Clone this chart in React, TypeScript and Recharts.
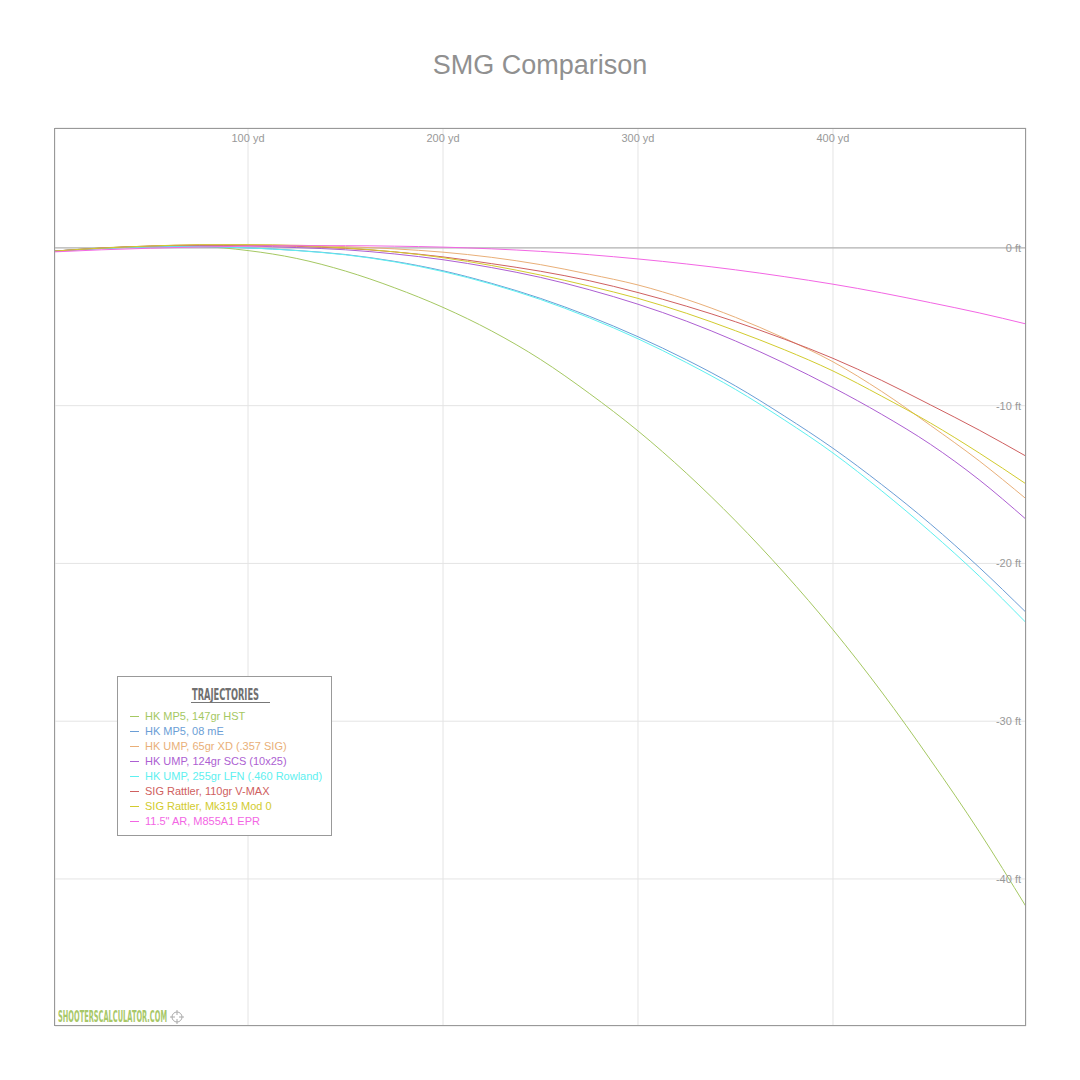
import { LineChart, Line, XAxis, YAxis, CartesianGrid } from 'recharts';

// range in yards
const YARDS = [1, 25, 50, 75, 100, 125, 150, 175, 200, 225, 250, 275, 300, 325, 350, 375, 400, 425, 450, 475, 499];

// drop in feet
const MP5_HST = [-0.2, 0.0, 0.1, 0.08, -0.17, -0.67, -1.47, -2.52, -3.77, -5.27, -7.07, -9.22, -11.6, -14.3, -17.3, -20.6, -24.2, -28.15, -32.45, -37.0, -41.75];
const MP5_MEE = [-0.2, -0.04, 0.07, 0.08, 0.0, -0.16, -0.42, -0.85, -1.45, -2.25, -3.2, -4.33, -5.63, -7.1, -8.75, -10.65, -12.7, -15.0, -17.5, -20.25, -23.1];
const UMP_XD = [-0.22, -0.03, 0.1, 0.18, 0.2, 0.17, 0.08, -0.06, -0.27, -0.6, -1.06, -1.67, -2.35, -3.27, -4.4, -5.72, -7.22, -9.1, -11.25, -13.5, -15.9];
const UMP_SCS = [-0.2, -0.02, 0.1, 0.15, 0.12, 0.02, -0.12, -0.38, -0.75, -1.25, -1.87, -2.65, -3.57, -4.65, -5.9, -7.3, -8.85, -10.55, -12.45, -14.7, -17.2];
const UMP_LFN = [-0.2, -0.04, 0.07, 0.08, 0.0, -0.17, -0.44, -0.88, -1.5, -2.3, -3.27, -4.43, -5.76, -7.28, -8.97, -10.9, -13.0, -15.4, -18.0, -20.8, -23.75];
const RATTLER_VMAX = [-0.2, -0.01, 0.12, 0.18, 0.17, 0.1, -0.03, -0.25, -0.57, -1.0, -1.48, -2.08, -2.83, -3.7, -4.68, -5.78, -7.0, -8.4, -9.95, -11.55, -13.2];
const RATTLER_MK319 = [-0.2, -0.01, 0.12, 0.2, 0.2, 0.14, 0.0, -0.25, -0.62, -1.12, -1.72, -2.42, -3.2, -4.15, -5.25, -6.45, -7.8, -9.4, -11.1, -13.0, -14.96];
const AR_M855A1 = [-0.25, -0.12, -0.02, 0.06, 0.11, 0.14, 0.14, 0.11, 0.05, -0.06, -0.22, -0.43, -0.7, -1.02, -1.39, -1.82, -2.3, -2.85, -3.47, -4.12, -4.82];

const X_TICKS = [100, 200, 300, 400];
const Y_TICKS = [-40, -30, -20, -10, 0];

const SERIES = [
  { key: 'mp5Hst', name: 'HK MP5, 147gr HST', color: '#a5c862', values: MP5_HST },
  { key: 'mp5Mee', name: 'HK MP5, 08 mE', color: '#6b9ed6', values: MP5_MEE },
  { key: 'umpXd', name: 'HK UMP, 65gr XD (.357 SIG)', color: '#e9af78', values: UMP_XD },
  { key: 'umpScs', name: 'HK UMP, 124gr SCS (10x25)', color: '#ad5fd2', values: UMP_SCS },
  { key: 'umpLfn', name: 'HK UMP, 255gr LFN (.460 Rowland)', color: '#5ef0f0', values: UMP_LFN },
  { key: 'rattlerVmax', name: 'SIG Rattler, 110gr V-MAX', color: '#cf6060', values: RATTLER_VMAX },
  { key: 'rattlerMk319', name: 'SIG Rattler, Mk319 Mod 0', color: '#d2cb2e', values: RATTLER_MK319 },
  { key: 'arM855', name: '11.5" AR, M855A1 EPR', color: '#f366e4', values: AR_M855A1 },
];

const data = YARDS.map((yd, i) => {
  const row: Record<string, number> = { yd };
  SERIES.forEach(s => { row[s.key] = s.values[i]; });
  return row;
});

const FONT = '"Liberation Sans", Arial, Helvetica, sans-serif';
const CONDENSED = '"DejaVu Sans Condensed", "Liberation Sans", sans-serif';

const PLOT = { left: 55, top: 128, right: 1026, bottom: 1026 };

function XTick({ x, payload }: any) {
  return (
    <text x={x} y={PLOT.top + 14} textAnchor="middle" fill="#999" fontSize={11} fontFamily={FONT}>
      {payload.value} yd
    </text>
  );
}

function YTick({ y, payload }: any) {
  return (
    <text x={PLOT.right - 5} y={y + 4} textAnchor="end" fill="#999" fontSize={11} fontFamily={FONT}>
      {payload.value} ft
    </text>
  );
}

function TrajectoryLegend() {
  return (
    <div
      style={{
        position: 'absolute',
        left: 117,
        top: 676,
        width: 213,
        height: 158,
        border: '1px solid #999',
        background: '#fff',
        fontFamily: FONT,
      }}
    >
      <svg width={213} height={30} style={{ position: 'absolute', left: 0, top: 0 }}>
        <text
          x={74}
          y={23}
          fontFamily={CONDENSED}
          fontWeight="bold"
          fontSize={15}
          fill="#707070"
          textLength={67}
          lengthAdjust="spacingAndGlyphs"
        >
          TRAJECTORIES
        </text>
        <line x1={73} y1={25.5} x2={152} y2={25.5} stroke="#777" strokeWidth={1} />
      </svg>
      {SERIES.map((s, i) => (
        <div key={s.key} style={{ position: 'absolute', left: 12, top: 32 + i * 15, height: 14, whiteSpace: 'nowrap' }}>
          <span style={{ position: 'absolute', left: 0, top: 7, width: 9, height: 1, background: s.color }} />
          <span style={{ position: 'absolute', left: 15, top: 0, fontSize: 11, lineHeight: '14px', color: s.color }}>
            {s.name}
          </span>
        </div>
      ))}
    </div>
  );
}

function Watermark() {
  return (
    <svg width={260} height={22} style={{ position: 'absolute', left: 56, top: 1006 }}>
      <text
        x={2}
        y={16}
        fontFamily={CONDENSED}
        fontWeight="bold"
        fontSize={15}
        fill="#a8c868"
        textLength={109}
        lengthAdjust="spacingAndGlyphs"
      >
        SHOOTERSCALCULATOR.COM
      </text>
      <g stroke="#aaa" strokeWidth={1} fill="none">
        <circle cx={121} cy={11} r={5} />
        <line x1={121} y1={4} x2={121} y2={9} />
        <line x1={121} y1={13} x2={121} y2={18} />
        <line x1={114} y1={11} x2={119} y2={11} />
        <line x1={123} y1={11} x2={128} y2={11} />
      </g>
    </svg>
  );
}

export default function App() {
  return (
    <div style={{ position: 'absolute', left: 0, top: 0, width: 1080, height: 1080, background: '#fff' }}>
      <div
        style={{
          position: 'absolute',
          left: 0,
          top: 50,
          width: 1080,
          textAlign: 'center',
          fontFamily: FONT,
          fontSize: 27,
          color: '#909090',
        }}
      >
        SMG Comparison
      </div>
      <div style={{ position: 'absolute', left: 0, top: 0 }}>
        <LineChart
          width={1080}
          height={1080}
          data={data}
          margin={{ top: PLOT.top - 1, right: 1080 - PLOT.right - 1, bottom: 1080 - PLOT.bottom, left: PLOT.left }}
        >
          <CartesianGrid stroke="#e4e4e4" strokeWidth={1} />
          <CartesianGrid stroke="#aaa" strokeWidth={1} vertical={false} horizontalValues={[0]} />
          <XAxis
            dataKey="yd"
            type="number"
            orientation="top"
            domain={[1, 499]}
            ticks={X_TICKS}
            interval={0}
            height={1}
            axisLine={false}
            tickLine={false}
            tick={<XTick />}
            allowDataOverflow
          />
          <YAxis
            type="number"
            orientation="right"
            domain={[-49.32, 7.6]}
            ticks={Y_TICKS}
            interval={0}
            width={1}
            axisLine={false}
            tickLine={false}
            tick={<YTick />}
            allowDataOverflow
          />
          {SERIES.map(s => (
            <Line
              key={s.key}
              dataKey={s.key}
              name={s.name}
              type="monotone"
              stroke={s.color}
              strokeWidth={1}
              dot={false}
              activeDot={false}
              isAnimationActive={false}
            />
          ))}
        </LineChart>
      </div>
      <div
        style={{
          position: 'absolute',
          left: PLOT.left - 1,
          top: PLOT.top,
          width: PLOT.right - PLOT.left + 1,
          height: PLOT.bottom - PLOT.top,
          border: '1px solid #999',
          boxSizing: 'border-box',
          pointerEvents: 'none',
        }}
      />
      <TrajectoryLegend />
      <Watermark />
    </div>
  );
}
